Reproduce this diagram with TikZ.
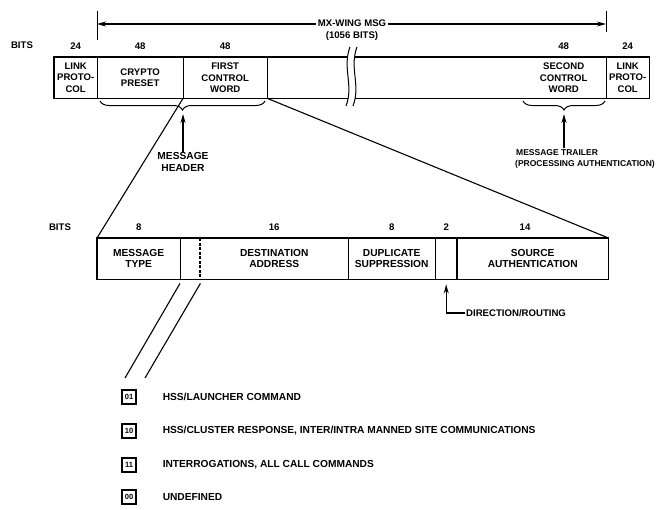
\documentclass[tikz,border=0pt]{standalone}
\usepackage{fontspec}
\setmainfont{Liberation Sans}
\usetikzlibrary{arrows.meta,positioning,decorations.pathreplacing}

\begin{document}
\begin{tikzpicture}[x=1pt, y=-1pt,
    font=\bfseries\fontsize{9.6}{11.3}\selectfont,
    field/.style={minimum height=41pt, inner sep=0pt, align=center, anchor=north west},
    lowfield/.style={field, font=\bfseries\fontsize{10.2}{11.3}\selectfont},
    bitnum/.style={inner sep=1pt},
    edge/.style={line width=1.2pt},
    arr/.style={line width=1.1pt, -{Stealth[length=9pt, width=5pt]}},
    keybox/.style={draw, line width=1.1pt, minimum size=14pt, inner sep=0pt, font=\bfseries\fontsize{7.5}{8}\selectfont},
    keytext/.style={right=26pt of #1, anchor=west, inner sep=0pt, font=\bfseries\fontsize{10.2}{11}\selectfont}]
  \useasboundingbox (0,0) rectangle (658,509);

  % MX-WING message
  \node[field, minimum width=43pt] (lpa) at (54,57) {LINK\\PROTO-\\COL};
  \node[field, minimum width=86pt] (cp)  at (97,57) {CRYPTO\\PRESET};
  \node[field, minimum width=84pt] (fcw) at (183,57) {FIRST\\CONTROL\\WORD};
  \node[field, minimum width=254pt] (mid) at (267,57) {};
  \node[field, minimum width=85pt] (scw) at (521,57) {SECOND\\CONTROL\\WORD};
  \node[field, minimum width=43pt] (lpb) at (606,57) {LINK\\PROTO-\\COL};
  \draw[edge] (lpa.north west) rectangle (lpb.south east);
  \foreach \f in {lpa,cp,fcw,scw}
    \draw[edge] (\f.north east) -- (\f.south east);

  % break in the message
  \fill[white] (350,47) .. controls (342,68) and (354,85) .. (346,106)
    -- (353,106) .. controls (361,85) and (349,68) .. (357,47) -- cycle;
  \draw[line width=1pt] (350,47) .. controls (342,68) and (354,85) .. (346,106);
  \draw[line width=1pt] (357,47) .. controls (349,68) and (361,85) .. (353,106);

  % bits of the message
  \node[bitnum] at (22,45) {BITS};
  \node[bitnum, above=6pt of lpa] {24};
  \node[bitnum, above=6pt of cp] {48};
  \node[bitnum, above=6pt of fcw] {48};
  \node[bitnum, above=6pt of scw] {48};
  \node[bitnum, above=6pt of lpb] {24};

  % total length
  \coordinate (ta) at (97,24);
  \coordinate (tb) at (606,24);
  \draw[line width=1pt] (97,11) -- (97,40);
  \draw[line width=1pt] (606,11) -- (606,32);
  \draw[arr, {Stealth[length=9pt, width=5pt]}-{Stealth[length=9pt, width=5pt]}] (ta) -- (tb);
  \node[fill=white, inner sep=1.5pt, align=center, anchor=north] (tot) at (352,18.5) {MX-WING MSG\\(1056 BITS)};

  % header and trailer
  \draw[line width=1pt, decorate, decoration={brace, mirror, amplitude=9pt}]
    (100,101) -- (265,101);
  \draw[line width=1pt, decorate, decoration={brace, mirror, amplitude=9pt}]
    (523,101) -- (605,101);
  \coordinate (hdrtip) at (183,114);
  \coordinate (trltip) at (564,114);
  \node[align=center, inner sep=1pt, font=\bfseries\fontsize{10.2}{11.3}\selectfont] (hdr) at (183,162) {MESSAGE\\HEADER};
  \node[align=left, anchor=west, inner sep=1pt, font=\bfseries\fontsize{8.5}{11.3}\selectfont] (trl) at (514,159) {\hspace*{1pt}MESSAGE TRAILER\\(PROCESSING AUTHENTICATION)};
  \draw[arr] (hdr.north) -- (hdrtip);
  \draw[arr] (trltip |- trl.north) -- (trltip);

  % first control word
  \node[lowfield, minimum width=83pt]  (mt)  at (97,238)  {MESSAGE\\TYPE};
  \node[lowfield, minimum width=20pt]  (sub) at (180,238) {};
  \node[lowfield, minimum width=148pt] (dst) at (200,238) {DESTINATION\\ADDRESS};
  \node[lowfield, minimum width=87pt]  (ds)  at (348,238) {DUPLICATE\\SUPPRESSION};
  \node[lowfield, minimum width=22pt]  (dr)  at (435,238) {};
  \node[lowfield, minimum width=151pt] (sa)  at (457,238) {SOURCE\\AUTHENTICATION};
  \draw[edge] (mt.north west) rectangle (sa.south east);
  \draw[edge] (mt.north east) -- (mt.south east);
  \draw[edge, dash pattern=on 3pt off 1.5pt] (dst.north west) -- (dst.south west);
  \draw[edge] (dst.north east) -- (dst.south east);
  \draw[line width=0.6pt] (ds.north east) -- (ds.south east);
  \draw[edge] (sa.north west) -- (sa.south west);
  \draw[line width=1.1pt] (fcw.south west) -- (mt.north west);
  \draw[line width=1.1pt] (fcw.south east) -- (sa.north east);

  % bits of the control word
  \node[bitnum] at (60,227) {BITS};
  \node[bitnum, above=6pt of mt] {8};
  \node[bitnum, above=6pt of dst] {16};
  \node[bitnum, above=6pt of ds] {8};
  \node[bitnum, above=6pt of dr] {2};
  \node[bitnum] at (525,227) {14};

  % direction/routing
  \node[anchor=west, inner sep=1pt] (dir) at (465,313) {DIRECTION/ROUTING};
  \draw[arr] (dir.west) -| ([yshift=-5pt]dr.south);

  % message type codes
  \node[keybox] (k1) at (129,397) {01};
  \node[keybox] (k2) at (129,431) {10};
  \node[keybox] (k3) at (129,465) {11};
  \node[keybox] (k4) at (129,497) {00};
  \node[keytext=k1] (t1) {HSS/LAUNCHER COMMAND};
  \node[keytext=k2] (t2) {HSS/CLUSTER RESPONSE, INTER/INTRA MANNED SITE COMMUNICATIONS};
  \node[keytext=k3] (t3) {INTERROGATIONS, ALL CALL COMMANDS};
  \node[keytext=k4] (t4) {UNDEFINED};
  \coordinate (ka) at (125,378);
  \coordinate (kb) at (145,378);
  \draw[line width=1.1pt] ([yshift=-4pt]sub.south west) -- (ka);
  \draw[line width=1.1pt] ([yshift=-4pt]sub.south east) -- (kb);
\end{tikzpicture}
\end{document}
